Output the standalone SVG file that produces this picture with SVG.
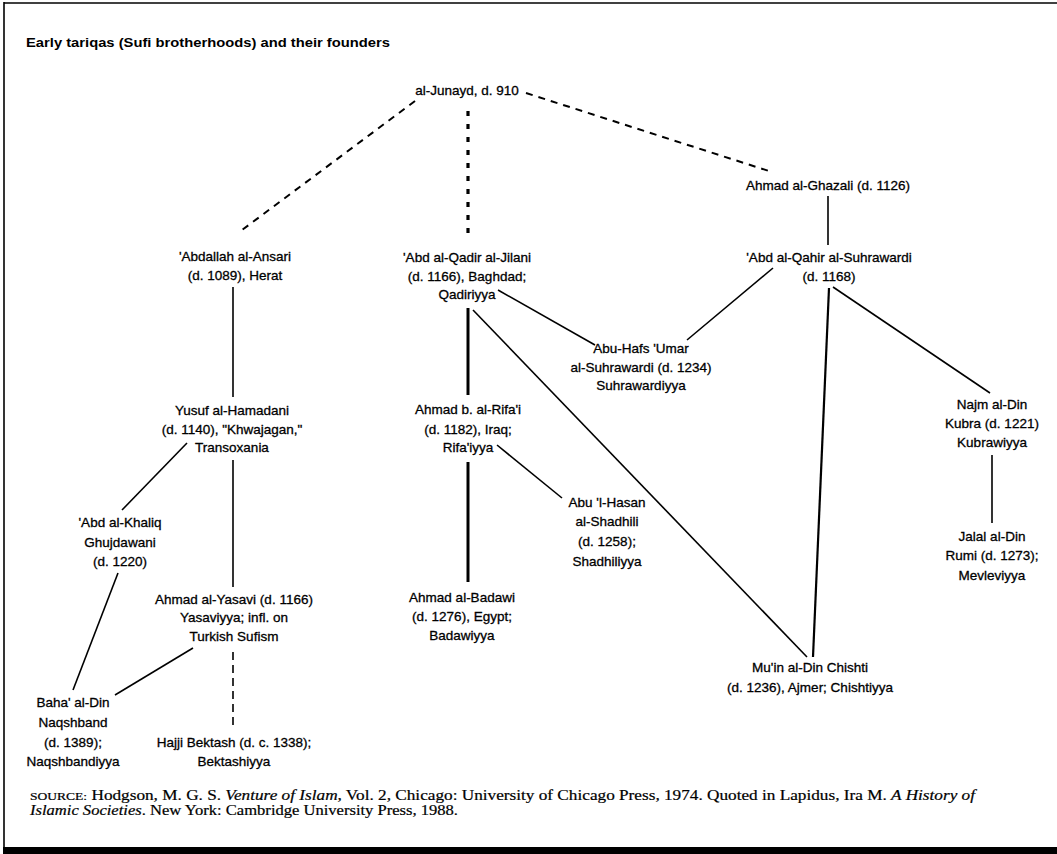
<svg xmlns="http://www.w3.org/2000/svg" width="1057" height="854" viewBox="0 0 1057 854">
<style>
.n{font-family:"Liberation Sans",Arial,sans-serif;font-size:13.5px;fill:#000;stroke:#000;stroke-width:0.3;text-anchor:middle}
.t{font-family:"Liberation Sans",Arial,sans-serif;font-size:13.5px;font-weight:bold;fill:#000}
.s{font-family:"Liberation Serif","Times New Roman",serif;font-size:14px;fill:#000;stroke:#000;stroke-width:0.2}
.c{stroke:#000;fill:none;stroke-width:1.6}
.thick{stroke-width:3}
.med{stroke-width:2.2}
.dash{stroke-dasharray:7 6;stroke-width:2}
.dot{stroke-dasharray:5 8;stroke-width:3.2}
.dsh{stroke-dasharray:8 5;stroke-width:1.6}
</style>
<rect x="0" y="0" width="1057" height="854" fill="#fff"/>
<g id="frame">
<line x1="4" y1="3" x2="1057" y2="3" stroke="#000" stroke-width="1.6"/>
<line x1="4" y1="2" x2="4" y2="850" stroke="#000" stroke-width="1.6"/>
<rect x="3" y="847" width="1054" height="7" fill="#000"/>
</g>
<text class="t" x="26" y="47" textLength="364" lengthAdjust="spacingAndGlyphs">Early tariqas (Sufi brotherhoods) and their founders</text>
<g id="connectors">
<line class="c dash" x1="415" y1="101" x2="238" y2="233"/>
<line class="c dot" x1="468" y1="111" x2="468" y2="236"/>
<line class="c dash" x1="526" y1="93" x2="772" y2="172"/>
<line class="c" x1="828" y1="196" x2="828" y2="245"/>
<line class="c" x1="773" y1="268" x2="687" y2="340"/>
<line class="c med" x1="829" y1="288" x2="813" y2="657"/>
<line class="c" x1="833" y1="287" x2="990" y2="393"/>
<line class="c" x1="992" y1="455" x2="992" y2="523"/>
<line class="c" x1="233" y1="287" x2="233" y2="397"/>
<line class="c" x1="187" y1="443" x2="122" y2="510"/>
<line class="c" x1="233" y1="460" x2="233" y2="587"/>
<line class="c" x1="118" y1="573" x2="73" y2="690"/>
<line class="c" x1="193" y1="648" x2="115" y2="695"/>
<line class="c dsh" x1="233" y1="652" x2="233" y2="726"/>
<line class="c thick" x1="468" y1="308" x2="468" y2="395"/>
<line class="c" x1="498" y1="290" x2="595" y2="345"/>
<line class="c" x1="473" y1="310" x2="807" y2="657"/>
<line class="c thick" x1="468" y1="462" x2="468" y2="582"/>
<line class="c" x1="497" y1="445" x2="562" y2="498"/>
</g>
<g id="junayd"><text class="n" x="467" y="95">al-Junayd, d. 910</text></g>
<g id="ghazali"><text class="n" x="828" y="190">Ahmad al-Ghazali (d. 1126)</text></g>
<g id="qahir"><text class="n" x="829" y="262"><tspan x="829">'Abd al-Qahir al-Suhrawardi</tspan><tspan x="829" dy="19">(d. 1168)</tspan></text></g>
<g id="abuhafs"><text class="n" x="641" y="353"><tspan x="641">Abu-Hafs 'Umar</tspan><tspan x="641" dy="19">al-Suhrawardi (d. 1234)</tspan><tspan x="641" dy="18">Suhrawardiyya</tspan></text></g>
<g id="najm"><text class="n" x="992" y="409"><tspan x="992">Najm al-Din</tspan><tspan x="992" dy="19">Kubra (d. 1221)</tspan><tspan x="992" dy="19">Kubrawiyya</tspan></text></g>
<g id="rumi"><text class="n" x="992" y="541"><tspan x="992">Jalal al-Din</tspan><tspan x="992" dy="19">Rumi (d. 1273);</tspan><tspan x="992" dy="20">Mevleviyya</tspan></text></g>
<g id="ansari"><text class="n" x="235" y="261"><tspan x="235">'Abdallah al-Ansari</tspan><tspan x="235" dy="19">(d. 1089), Herat</tspan></text></g>
<g id="hamadani"><text class="n" x="232" y="415"><tspan x="232">Yusuf al-Hamadani</tspan><tspan x="232" dy="19">(d. 1140), "Khwajagan,"</tspan><tspan x="232" dy="18">Transoxania</tspan></text></g>
<g id="khaliq"><text class="n" x="120" y="527"><tspan x="120">'Abd al-Khaliq</tspan><tspan x="120" dy="20">Ghujdawani</tspan><tspan x="120" dy="19">(d. 1220)</tspan></text></g>
<g id="yasavi"><text class="n" x="234" y="604"><tspan x="234">Ahmad al-Yasavi (d. 1166)</tspan><tspan x="234" dy="18">Yasaviyya; infl. on</tspan><tspan x="234" dy="19">Turkish Sufism</tspan></text></g>
<g id="naqshband"><text class="n" x="73" y="707"><tspan x="73">Baha' al-Din</tspan><tspan x="73" dy="20">Naqshband</tspan><tspan x="73" dy="20">(d. 1389);</tspan><tspan x="73" dy="19">Naqshbandiyya</tspan></text></g>
<g id="bektash"><text class="n" x="234" y="747"><tspan x="234">Hajji Bektash (d. c. 1338);</tspan><tspan x="234" dy="19">Bektashiyya</tspan></text></g>
<g id="jilani"><text class="n" x="467" y="262"><tspan x="467">'Abd al-Qadir al-Jilani</tspan><tspan x="467" dy="19">(d. 1166), Baghdad;</tspan><tspan x="467" dy="18">Qadiriyya</tspan></text></g>
<g id="rifai"><text class="n" x="468" y="414"><tspan x="468">Ahmad b. al-Rifa'i</tspan><tspan x="468" dy="20">(d. 1182), Iraq;</tspan><tspan x="468" dy="18">Rifa'iyya</tspan></text></g>
<g id="shadhili"><text class="n" x="607" y="507"><tspan x="607">Abu 'l-Hasan</tspan><tspan x="607" dy="19">al-Shadhili</tspan><tspan x="607" dy="20">(d. 1258);</tspan><tspan x="607" dy="20">Shadhiliyya</tspan></text></g>
<g id="badawi"><text class="n" x="462" y="602"><tspan x="462">Ahmad al-Badawi</tspan><tspan x="462" dy="19">(d. 1276), Egypt;</tspan><tspan x="462" dy="19">Badawiyya</tspan></text></g>
<g id="chishti"><text class="n" x="810" y="672"><tspan x="810">Mu'in al-Din Chishti</tspan><tspan x="810" dy="20">(d. 1236), Ajmer; Chishtiyya</tspan></text></g>
<g id="source">
<text class="s" x="30" y="800" textLength="945" lengthAdjust="spacingAndGlyphs"><tspan font-size="11">SOURCE:</tspan> Hodgson, M. G. S. <tspan font-style="italic">Venture of Islam</tspan>, Vol. 2, Chicago: University of Chicago Press, 1974. Quoted in Lapidus, Ira M. <tspan font-style="italic">A History of</tspan></text>
<text class="s" x="30" y="815" textLength="428" lengthAdjust="spacingAndGlyphs"><tspan font-style="italic">Islamic Societies</tspan>. New York: Cambridge University Press, 1988.</text>
</g>
</svg>
